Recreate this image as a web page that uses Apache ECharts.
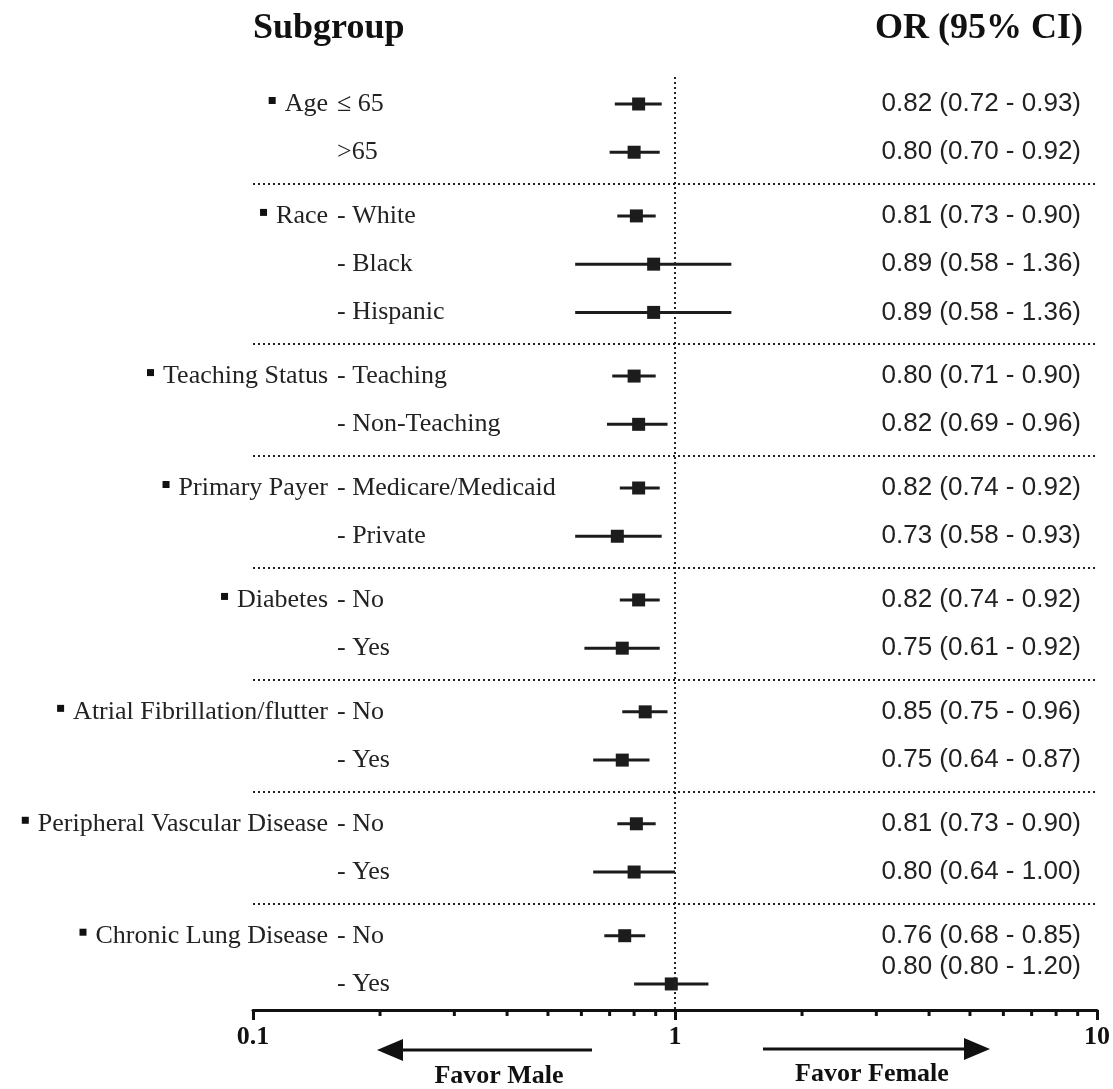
<!DOCTYPE html>
<html><head><meta charset="utf-8">
<script src="https://cdn.jsdelivr.net/npm/echarts@6/dist/echarts.min.js"></script>
<style>html,body{margin:0;padding:0;background:#fff}#c{width:1113px;height:1089px}</style>
</head><body><div id="c"></div>
<script>
// ---- data ----
const groupNames = ['Age', 'Race', 'Teaching Status', 'Primary Payer', 'Diabetes',
  'Atrial Fibrillation/flutter', 'Peripheral Vascular Disease', 'Chronic Lung Disease'];
const groupSizes = [2, 3, 2, 2, 2, 2, 2, 2];
const subLabels = ['≤ 65', '>65', '- White', '- Black', '- Hispanic', '- Teaching', '- Non-Teaching',
  '- Medicare/Medicaid', '- Private', '- No', '- Yes', '- No', '- Yes', '- No', '- Yes', '- No', '- Yes'];
const orValues = [0.82, 0.80, 0.81, 0.89, 0.89, 0.80, 0.82, 0.82, 0.73, 0.82, 0.75, 0.85, 0.75, 0.81, 0.80, 0.76, 0.98];
const ciLower  = [0.72, 0.70, 0.73, 0.58, 0.58, 0.71, 0.69, 0.74, 0.58, 0.74, 0.61, 0.75, 0.64, 0.73, 0.64, 0.68, 0.80];
const ciUpper  = [0.93, 0.92, 0.90, 1.36, 1.36, 0.90, 0.96, 0.92, 0.93, 0.92, 0.92, 0.96, 0.87, 0.90, 1.00, 0.85, 1.20];
const orLabels = ['0.82 (0.72 - 0.93)', '0.80 (0.70 - 0.92)', '0.81 (0.73 - 0.90)', '0.89 (0.58 - 1.36)',
  '0.89 (0.58 - 1.36)', '0.80 (0.71 - 0.90)', '0.82 (0.69 - 0.96)', '0.82 (0.74 - 0.92)', '0.73 (0.58 - 0.93)',
  '0.82 (0.74 - 0.92)', '0.75 (0.61 - 0.92)', '0.85 (0.75 - 0.96)', '0.75 (0.64 - 0.87)', '0.81 (0.73 - 0.90)',
  '0.80 (0.64 - 1.00)', '0.76 (0.68 - 0.85)', '0.80 (0.80 - 1.20)'];
const xTickLabels = ['0.1', '1', '10'];
const minorTicks = [0.2, 0.3, 0.4, 0.5, 0.6, 0.7, 0.8, 0.9, 2, 3, 4, 5, 6, 7, 8, 9];

// ---- layout helpers (row positions from group structure) ----
const GAP = 0.32;
const rowPos = [], rowGroup = [];
(function () {
  let i = 0;
  groupSizes.forEach((n, g) => { for (let k = 0; k < n; k++) { rowPos.push(i + g * GAP); rowGroup.push(g); i++; } });
})();
const groupFirst = [];
{ let s = 0; groupSizes.forEach(n => { groupFirst.push(s); s += n; }); }
const separators = [];
for (let g = 1; g < groupSizes.length; g++) {
  const f = groupFirst[g];
  separators.push((rowPos[f - 1] + rowPos[f]) / 2);
}
const Y_MIN = -2, Y_MAX = 18.78;
const INK = '#1c1c1c';
const dotted = { type: [2, 3], width: 2, color: '#222' };

const chart = echarts.init(document.getElementById('c'), null, { renderer: 'canvas' });
chart.setOption({
  animation: false,
  backgroundColor: '#fff',
  grid: { left: 253, right: 15, top: 7.5, bottom: 79 },
  xAxis: {
    type: 'log', logBase: 10, min: 0.1, max: 10,
    axisLine: { show: true, onZero: false, lineStyle: { color: '#111', width: 3 } },
    axisTick: { show: true, length: 10, lineStyle: { color: '#111', width: 3 } },
    axisLabel: {
      fontFamily: 'Liberation Serif', fontWeight: 'bold', fontSize: 26, color: '#111', margin: 14,
      formatter: v => { const i = Math.round(Math.log10(v)) + 1; return xTickLabels[i] ?? String(v); }
    },
    splitLine: { show: false }, minorTick: { show: false }
  },
  yAxis: { type: 'value', inverse: true, min: Y_MIN, max: Y_MAX, show: false },
  series: [
    {
      type: 'custom', name: 'ci', silent: true, clip: false,
      data: rowPos.map((p, i) => [ciLower[i], ciUpper[i], p]),
      encode: { x: [0, 1], y: 2 },
      renderItem: (params, api) => {
        const a = api.coord([api.value(0), api.value(2)]);
        const b = api.coord([api.value(1), api.value(2)]);
        return { type: 'line', shape: { x1: a[0], y1: a[1], x2: b[0], y2: b[1] }, style: { stroke: INK, lineWidth: 3 } };
      }
    },
    {
      type: 'scatter', name: 'OR', silent: true, symbol: 'rect', symbolSize: 13,
      itemStyle: { color: INK, opacity: 1 },
      data: rowPos.map((p, i) => [orValues[i], p]),
      markLine: {
        silent: true, symbol: ['none', 'none'], label: { show: false },
        lineStyle: dotted,
        data: separators.map(s => ({ yAxis: s })).concat([[{ coord: [1, -0.56] }, { coord: [1, Y_MAX] }]])
      }
    },
    {
      type: 'custom', name: 'minorTicks', silent: true, clip: false,
      data: minorTicks.map(v => [v, Y_MAX]),
      encode: { x: 0, y: 1 },
      renderItem: (params, api) => {
        const p = api.coord([api.value(0), api.value(1)]);
        return { type: 'line', shape: { x1: p[0], y1: p[1], x2: p[0], y2: p[1] + 6 }, style: { stroke: '#111', lineWidth: 3 } };
      }
    }
  ]
});

// ---- text annotations ----
const SERIF = '26px "Liberation Serif"';
const ctx = document.createElement('canvas').getContext('2d');
ctx.font = SERIF;
const gfx = [];
const GROUP_RIGHT = 328, SUB_LEFT = 337, OR_RIGHT = 1081;
const labelDy = { 16: -17 };
rowPos.forEach((p, i) => {
  const y = chart.convertToPixel({ yAxisIndex: 0 }, p);
  const g = rowGroup[i];
  if (groupFirst[g] === i) {
    const name = groupNames[g];
    const w = ctx.measureText(name).width;
    gfx.push({ type: 'text', x: GROUP_RIGHT, y: y, style: { text: name, font: SERIF, fill: '#222', align: 'right', verticalAlign: 'middle' } });
    gfx.push({ type: 'rect', shape: { x: GROUP_RIGHT - w - 16, y: y - 7, width: 7, height: 7 }, style: { fill: '#111' } });
  }
  gfx.push({ type: 'text', x: SUB_LEFT, y: y, style: { text: subLabels[i], font: SERIF, fill: '#222', align: 'left', verticalAlign: 'middle' } });
  gfx.push({ type: 'text', x: OR_RIGHT, y: y + (labelDy[i] || 0), style: { text: orLabels[i], font: '26px "Liberation Sans"', fill: '#222', align: 'right', verticalAlign: 'middle' } });
});
// headers
gfx.push({ type: 'text', x: 253, y: 29, style: { text: 'Subgroup', font: 'bold 36px "Liberation Serif"', fill: '#111', align: 'left', verticalAlign: 'middle' } });
gfx.push({ type: 'text', x: 1083, y: 29, style: { text: 'OR (95% CI)', font: 'bold 36px "Liberation Serif"', fill: '#111', align: 'right', verticalAlign: 'middle' } });
// arrows
gfx.push({ type: 'line', shape: { x1: 592, y1: 1050, x2: 398, y2: 1050 }, style: { stroke: '#111', lineWidth: 3 } });
gfx.push({ type: 'polygon', shape: { points: [[377, 1050], [403, 1039], [403, 1061]] }, style: { fill: '#111' } });
gfx.push({ type: 'line', shape: { x1: 763, y1: 1049, x2: 968, y2: 1049 }, style: { stroke: '#111', lineWidth: 3 } });
gfx.push({ type: 'polygon', shape: { points: [[990, 1049], [964, 1038], [964, 1060]] }, style: { fill: '#111' } });
gfx.push({ type: 'text', x: 499, y: 1076, style: { text: 'Favor Male', font: 'bold 26px "Liberation Serif"', fill: '#111', align: 'center', verticalAlign: 'middle' } });
gfx.push({ type: 'text', x: 872, y: 1074, style: { text: 'Favor Female', font: 'bold 26px "Liberation Serif"', fill: '#111', align: 'center', verticalAlign: 'middle' } });
chart.setOption({ graphic: { elements: gfx } });
</script>
</body></html>
